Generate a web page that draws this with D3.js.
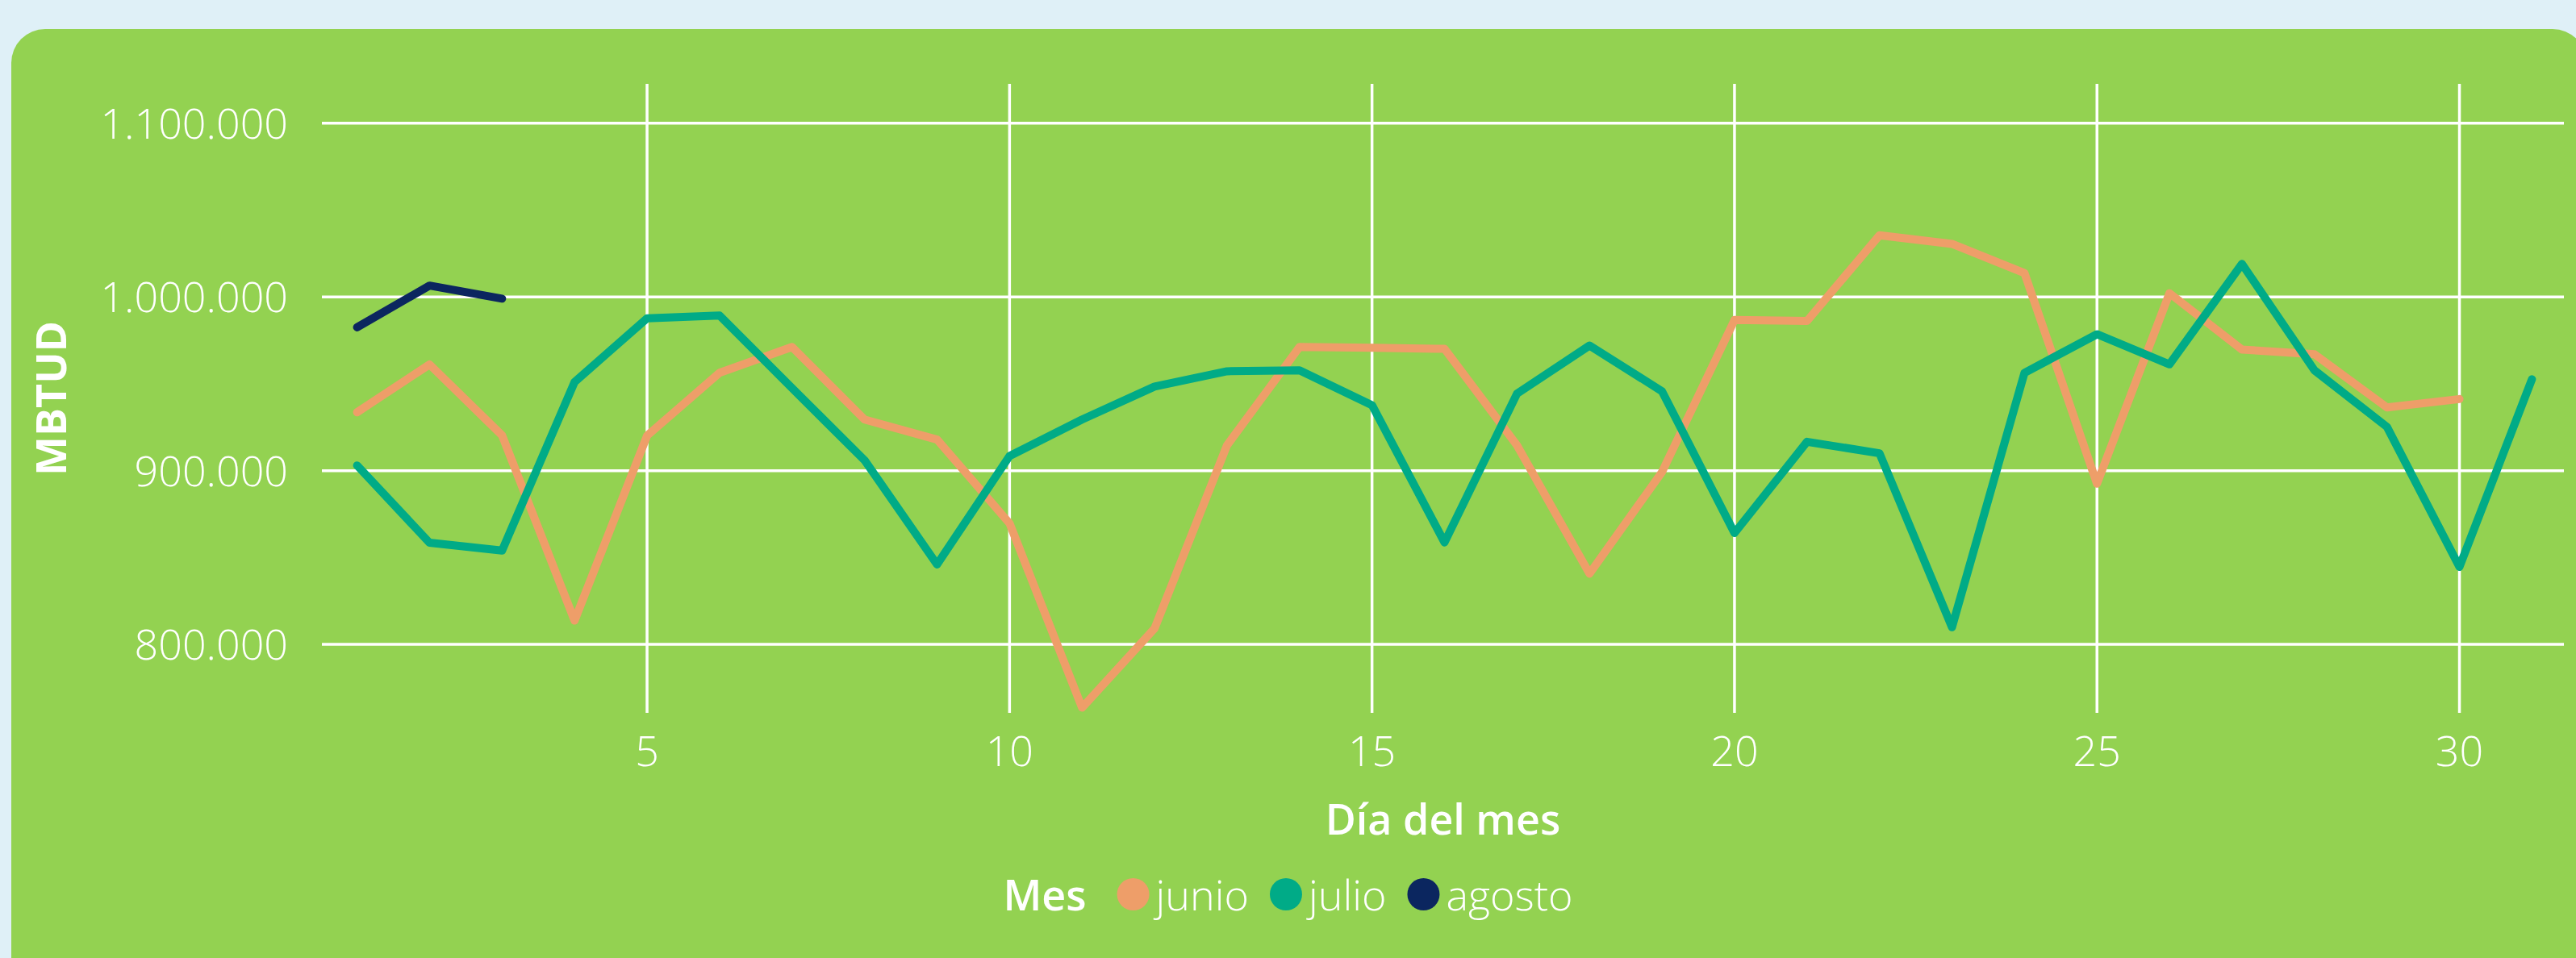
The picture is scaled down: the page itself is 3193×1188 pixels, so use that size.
<!DOCTYPE html>
<html>
<head>
<meta charset="utf-8">
<script src="https://cdn.jsdelivr.net/npm/d3@7"></script>
<style>
  html, body { margin: 0; padding: 0; background: #dff0f7; }
  svg text { fill: #ffffff; font-family: "Segoe UI", "Open Sans", "Noto Sans", sans-serif; }
</style>
</head>
<body>
<div id="vis"></div>
<script>
// Datos (MBTUD por día del mes)
var meses = ["junio", "julio", "agosto"];
var colores = ["#ee9e69", "#00ab87", "#0b265f"];

var junio = [933600, 961100, 920300, 813700, 920100, 956300, 971200, 929400, 917900, 869700,
             763600, 809100, 914600, 971200, 970700, 970100, 914600, 840700, 899200, 986700,
             986100, 1035500, 1030500, 1013700, 892500, 1002100, 969700, 967000, 936400, 941200];

var julio = [903000, 858500, 854000, 951000, 987700, 989300, 947500, 906000, 846000, 908400,
             929400, 948400, 957200, 957700, 937700, 858700, 944300, 972000, 945700, 864100,
             916600, 910000, 809900, 956300, 978500, 961200, 1019000, 957700, 925200, 844600,
             952600];

var agosto = [982500, 1006500, 999000];

var yTicks = [800000, 900000, 1000000, 1100000];
var xTicks = [5, 10, 15, 20, 25, 30];

var width = 3193;
var height = 1188;

var series = [junio, julio, agosto].map(function (vals, i) {
  return {
    mes: meses[i],
    color: colores[i],
    values: vals.map(function (v, j) { return { dia: j + 1, valor: v }; })
  };
});

var es = d3.formatLocale({ decimal: ",", thousands: ".", grouping: [3], currency: ["", "€"] });
var fmt = es.format(",");

var svg = d3.select("#vis").append("svg")
  .attr("width", width)
  .attr("height", height)
  .style("display", "block");

// tarjeta verde
svg.append("rect")
  .attr("x", 14).attr("y", 36)
  .attr("width", 3192).attr("height", 1200)
  .attr("rx", 42).attr("ry", 42)
  .attr("fill", "#93d251");

var x = d3.scaleLinear().domain([1, 31]).range([442.6, 3138.4]);
var y = d3.scaleLinear().domain([800000, 1100000]).range([799.1, 152.7]);

var gridLeft = 399, gridRight = 3178;
var gridTop = 104, gridBottom = 884;

// lineas de cuadricula horizontales
svg.append("g").selectAll("line")
  .data(yTicks)
  .enter().append("line")
  .attr("x1", gridLeft).attr("x2", gridRight)
  .attr("y1", function (d) { return y(d); })
  .attr("y2", function (d) { return y(d); })
  .attr("stroke", "#ffffff")
  .attr("stroke-width", 3.5);

// lineas verticales
svg.append("g").selectAll("line")
  .data(xTicks)
  .enter().append("line")
  .attr("x1", function (d) { return x(d); })
  .attr("x2", function (d) { return x(d); })
  .attr("y1", gridTop).attr("y2", gridBottom)
  .attr("stroke", "#ffffff")
  .attr("stroke-width", 3.5);

// etiquetas eje Y
svg.append("g").selectAll("text")
  .data(yTicks)
  .enter().append("text")
  .attr("x", 357)
  .attr("y", function (d) { return y(d) + 19; })
  .attr("text-anchor", "end")
  .style("font-size", "52px")
  .style("font-weight", 300)
  .text(function (d) { return fmt(d); });

// etiquetas eje X
svg.append("g").selectAll("text")
  .data(xTicks)
  .enter().append("text")
  .attr("x", function (d) { return x(d); })
  .attr("y", 950)
  .attr("text-anchor", "middle")
  .style("font-size", "52px")
  .style("font-weight", 300)
  .text(function (d) { return d; });

// titulos de ejes
svg.append("text")
  .attr("x", (gridLeft + gridRight) / 2)
  .attr("y", 1035)
  .attr("text-anchor", "middle")
  .style("font-size", "52px")
  .style("font-weight", 600)
  .text("Día del mes");

svg.append("text")
  .attr("transform", "translate(82," + ((gridTop + gridBottom) / 2) + ") rotate(-90)")
  .attr("text-anchor", "middle")
  .style("font-size", "52px")
  .style("font-weight", 700)
  .text("MBTUD");

// lineas
var line = d3.line()
  .x(function (d) { return x(d.dia); })
  .y(function (d) { return y(d.valor); });

svg.append("g").selectAll("path")
  .data(series)
  .enter().append("path")
  .attr("d", function (d) { return line(d.values); })
  .attr("fill", "none")
  .attr("stroke", function (d) { return d.color; })
  .attr("stroke-width", 10)
  .attr("stroke-linejoin", "round")
  .attr("stroke-linecap", "round");

// leyenda
var legend = svg.append("g");
var baseY = 1129;
var r = 20;

var titulo = legend.append("text")
  .attr("y", baseY)
  .style("font-size", "52px")
  .style("font-weight", 600)
  .text("Mes");

var items = legend.selectAll(".item")
  .data(series)
  .enter().append("g")
  .attr("class", "item");

items.append("circle")
  .attr("r", r)
  .attr("cy", baseY - 20)
  .attr("fill", function (d) { return d.color; });

items.append("text")
  .attr("y", baseY)
  .style("font-size", "52px")
  .style("font-weight", 300)
  .text(function (d) { return d.mes; });

// posiciones de la leyenda segun el ancho del texto
var wTitulo = titulo.node().getComputedTextLength();
var widths = [];
items.select("text").each(function () { widths.push(this.getComputedTextLength()); });
var total = wTitulo + 38;
widths.forEach(function (w, i) { total += 2 * r + 8 + w + (i < widths.length - 1 ? 26 : 0); });

var cx = width / 2 - total / 2;
titulo.attr("x", cx);
cx += wTitulo + 38;
items.each(function (d, i) {
  var g = d3.select(this);
  g.select("circle").attr("cx", cx + r);
  g.select("text").attr("x", cx + 2 * r + 8);
  cx += 2 * r + 8 + widths[i] + 26;
});
</script>
</body>
</html>
